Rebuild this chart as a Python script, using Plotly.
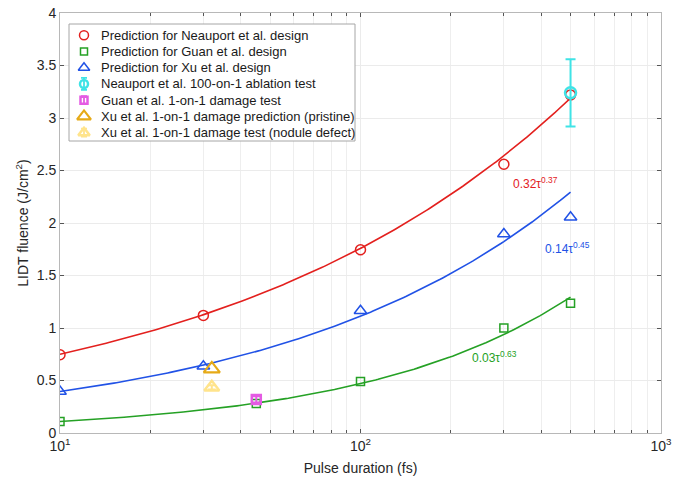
import numpy as np
import plotly.graph_objects as go

# Predictions
tau_neauport = [10, 30, 100, 300, 500]
lidt_neauport = [0.745, 1.12, 1.745, 2.56, 3.22]
tau_guan = [10, 45, 100, 300, 500]
lidt_guan = [0.11, 0.28, 0.49, 1.0, 1.235]
tau_xu = [10, 30, 100, 300, 500]
lidt_xu = [0.395, 0.635, 1.165, 1.895, 2.055]

# Experiments
tau_neauport_exp = [500]
lidt_neauport_exp = [3.24]
err_neauport_exp = [0.32]
tau_guan_exp = [45]
lidt_guan_exp = [0.32]
err_guan_exp = [0.03]
tau_xu_pristine = [32]
lidt_xu_pristine = [0.61]
tau_xu_nodule = [32]
lidt_xu_nodule = [0.435]
err_xu_nodule = [0.02]

# Power-law fits (coefficient, exponent)
fit_coef = [0.32, 0.14, 0.0258]
fit_exp = [0.37, 0.45, 0.63]
fit_labels = ["0.32τ<sup>0.37</sup>", "0.14τ<sup>0.45</sup>", "0.03τ<sup>0.63</sup>"]
fit_label_tau = [318, 404, 232]
fit_label_lidt = [2.38, 1.76, 0.72]

legend_names = [
    "Prediction for Neauport et al. design",
    "Prediction for Guan et al. design",
    "Prediction for Xu et al. design",
    "Neauport et al. 100-on-1 ablation test",
    "Guan et al. 1-on-1 damage test",
    "Xu et al. 1-on-1 damage prediction (pristine)",
    "Xu et al. 1-on-1 damage test (nodule defect)",
]

RED = "#e3201e"
BLUE = "#2152e6"
GREEN = "#25a125"
CYAN = "#3fe3e6"
MAGENTA = "#e45be3"
GOLD = "#e6aa17"
LIGHTY = "#ffe48c"

W, H = 674, 487
PL, PR, PT, PB = 60, 661, 13, 433          # plot area in pixels
L, R, T, B = PL, W - PR, PT, H - PB

fig = go.Figure()

tfit = np.geomspace(10, 500, 200)
for c, e, col in zip(fit_coef, fit_exp, [RED, BLUE, GREEN]):
    fig.add_trace(go.Scatter(x=tfit, y=c * tfit ** e, mode="lines",
                             line=dict(color=col, width=1.6), showlegend=False,
                             hoverinfo="skip"))

styles = [
    dict(symbol="circle-open", size=10, color=RED, line=dict(width=1.5)),
    dict(symbol="square-open", size=8, color=GREEN, line=dict(width=1.5)),
    dict(symbol="triangle-up-open", size=11, color=BLUE, line=dict(width=1.5)),
    dict(symbol="circle-open", size=11, color=CYAN, line=dict(width=2.5)),
    dict(symbol="square-open", size=9, color=MAGENTA, line=dict(width=2.5)),
    dict(symbol="triangle-up-open", size=14, color=GOLD, line=dict(width=2.2)),
    dict(symbol="triangle-up-open", size=13, color=LIGHTY, line=dict(width=2.5)),
]

fig.add_trace(go.Scatter(x=tau_neauport, y=lidt_neauport, mode="markers",
                         name=legend_names[0], marker=styles[0], showlegend=False))
fig.add_trace(go.Scatter(x=tau_guan, y=lidt_guan, mode="markers",
                         name=legend_names[1], marker=styles[1], showlegend=False))
fig.add_trace(go.Scatter(x=tau_xu, y=lidt_xu, mode="markers",
                         name=legend_names[2], marker=styles[2], showlegend=False))
fig.add_trace(go.Scatter(x=tau_neauport_exp, y=lidt_neauport_exp, mode="markers",
                         name=legend_names[3], showlegend=False,
                         error_y=dict(type="data", array=err_neauport_exp, color=CYAN,
                                      thickness=2, width=5),
                         marker=styles[3]))
fig.add_trace(go.Scatter(x=tau_guan_exp, y=lidt_guan_exp, mode="markers",
                         name=legend_names[4], showlegend=False,
                         error_y=dict(type="data", array=err_guan_exp, color=MAGENTA,
                                      thickness=2, width=4),
                         marker=styles[4]))
fig.add_trace(go.Scatter(x=tau_xu_pristine, y=lidt_xu_pristine, mode="markers",
                         name=legend_names[5], showlegend=False, marker=styles[5]))
fig.add_trace(go.Scatter(x=tau_xu_nodule, y=lidt_xu_nodule, mode="markers",
                         name=legend_names[6], showlegend=False,
                         error_y=dict(type="data", array=err_xu_nodule, color=LIGHTY,
                                      thickness=2, width=4),
                         marker=styles[6]))

for tx, ty, txt, col in zip(fit_label_tau, fit_label_lidt, fit_labels, [RED, BLUE, GREEN]):
    fig.add_annotation(x=np.log10(tx), y=ty, text=txt, showarrow=False,
                       xanchor="left", yanchor="middle",
                       font=dict(color=col, size=12))

# ---- hand-made legend on a pixel-space overlay axis ----
box_x0, box_x1, box_y0, box_y1 = 69, 355, 24, 141
row0, row_step = 35.2, 16.25
sym_x, txt_x = 84, 99
fig.add_trace(go.Scatter(
    x=[box_x0, box_x1, box_x1, box_x0, box_x0],
    y=[box_y0, box_y0, box_y1, box_y1, box_y0],
    mode="lines", fill="toself", fillcolor="white",
    line=dict(color="#a6a6a6", width=1), xaxis="x2", yaxis="y2",
    showlegend=False, hoverinfo="skip"))
leg_err = [None, None, None, 6, 4, None, 4]
leg_styles = [dict(s) for s in styles]
leg_styles[0]["size"] = 9
leg_styles[1]["size"] = 7
leg_styles[2]["size"] = 10
leg_styles[3]["size"] = 8
leg_styles[4]["size"] = 7
leg_styles[5]["size"] = 12
leg_styles[6]["size"] = 10
for i, (name, st, er) in enumerate(zip(legend_names, leg_styles, leg_err)):
    yy = row0 + i * row_step
    tr = dict(x=[sym_x], y=[yy], mode="markers", marker=st, xaxis="x2", yaxis="y2",
              showlegend=False, hoverinfo="skip")
    if er:
        tr["error_y"] = dict(type="data", array=[er], color=st["color"], thickness=1.8, width=3)
    fig.add_trace(go.Scatter(**tr))
    fig.add_annotation(x=txt_x, y=yy, xref="x2", yref="y2", text=name, showarrow=False,
                       xanchor="left", yanchor="middle",
                       font=dict(size=13, color="#1a1a1a"))

minor_vals = [v * m for m in (10, 100) for v in range(2, 10)]

axis_common = dict(showline=True, linecolor="#b8b8b8", linewidth=1, mirror="ticks",
                   ticks="inside", tickcolor="#555555", ticklen=4,
                   gridcolor="#ebebeb", gridwidth=1, zeroline=False, automargin=False,
                   ticklabeloverflow="allow",
                   tickfont=dict(size=14, color="#262626"),
                   title_font=dict(size=14, color="#262626"))

fig.update_layout(
    xaxis=dict(type="log", range=[1, 3], tickvals=[10, 100, 1000],
               ticktext=["10<sup>1</sup>", "10<sup>2</sup>", "10<sup>3</sup>"],
               title_text="Pulse duration (fs)", title_standoff=10,
               minor=dict(tickvals=minor_vals, showgrid=True, gridcolor="#eeeeee",
                          ticks="inside", ticklen=3, tickcolor="#555555"),
               **axis_common),
    yaxis=dict(range=[0, 4], dtick=0.5, title_text="LIDT fluence (J/cm<sup>2</sup>)",
               title_standoff=4, **axis_common),
    xaxis2=dict(overlaying="x", range=[PL, PR], visible=False, fixedrange=True),
    yaxis2=dict(overlaying="y", range=[PB, PT], visible=False, fixedrange=True),
    width=W, height=H,
    margin=dict(l=L, r=R, t=T, b=B),
    paper_bgcolor="white", plot_bgcolor="white",
    font=dict(family="Liberation Sans, Arial, sans-serif", color="#262626"),
    showlegend=False,
)

fig.write_html("out.html", config={"displayModeBar": False},
               post_script="document.body.style.margin='0px';")
